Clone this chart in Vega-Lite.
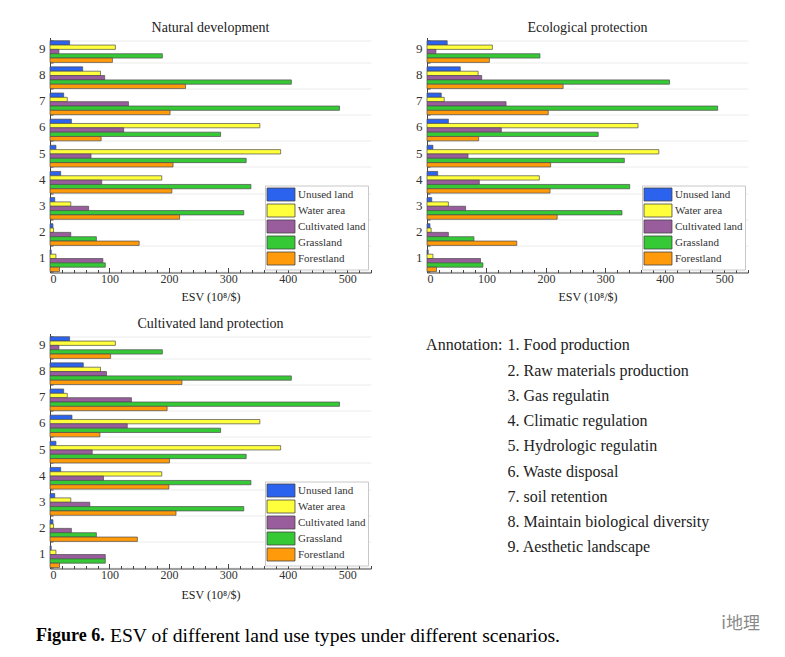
{
  "$schema": "https://vega.github.io/schema/vega-lite/v6.json",
  "padding": {"left": 36, "top": 20.5, "right": 5, "bottom": 5},
  "background": "white",
  "config": {
    "font": "Liberation Serif",
    "view": {"stroke": null},
    "title": {"fontSize": 14, "fontWeight": "normal", "color": "#222", "offset": -3, "frame": "group"},
    "axis": {"labelColor": "#333", "titleColor": "#222", "domainColor": "#444", "tickColor": "#444", "labelFont": "Liberation Serif", "titleFont": "Liberation Serif"},
    "axisY": {"title": null, "labelFontSize": 13, "labelAngle": 0, "tickBand": "extent", "tickSize": -3, "labelPadding": 8, "labelOffset": -3, "grid": true, "gridColor": "#ececec", "gridWidth": 1},
    "axisX": {"labelFontSize": 12, "titleFontSize": 12, "titleFontWeight": "normal", "grid": false, "labelPadding": 6, "titlePadding": 5, "labelOverlap": false},
    "legend": {"title": null, "orient": "bottom-right", "offset": 3, "strokeColor": "#c8c8c8", "fillColor": "white", "padding": 2, "labelFontSize": 11, "labelColor": "#333", "labelFont": "Liberation Serif", "symbolType": "M-2.15,-1H2.15V1H-2.15Z", "symbolSize": 169, "symbolStrokeColor": "#444", "symbolStrokeWidth": 0.8, "symbolOpacity": 1, "rowPadding": -2.5, "symbolOffset": 7, "labelOffset": 10}
  },
  "datasets": {
    "esv": [
      {"s":"N","k":1,"t":"Unused land","v":2},{"s":"N","k":1,"t":"Water area","v":10},{"s":"N","k":1,"t":"Cultivated land","v":89},{"s":"N","k":1,"t":"Grassland","v":93},{"s":"N","k":1,"t":"Forestland","v":16},
      {"s":"N","k":2,"t":"Unused land","v":5},{"s":"N","k":2,"t":"Water area","v":6},{"s":"N","k":2,"t":"Cultivated land","v":35},{"s":"N","k":2,"t":"Grassland","v":78},{"s":"N","k":2,"t":"Forestland","v":150},
      {"s":"N","k":3,"t":"Unused land","v":8},{"s":"N","k":3,"t":"Water area","v":35},{"s":"N","k":3,"t":"Cultivated land","v":65},{"s":"N","k":3,"t":"Grassland","v":326},{"s":"N","k":3,"t":"Forestland","v":218},
      {"s":"N","k":4,"t":"Unused land","v":18},{"s":"N","k":4,"t":"Water area","v":188},{"s":"N","k":4,"t":"Cultivated land","v":87},{"s":"N","k":4,"t":"Grassland","v":338},{"s":"N","k":4,"t":"Forestland","v":205},
      {"s":"N","k":5,"t":"Unused land","v":10},{"s":"N","k":5,"t":"Water area","v":388},{"s":"N","k":5,"t":"Cultivated land","v":69},{"s":"N","k":5,"t":"Grassland","v":330},{"s":"N","k":5,"t":"Forestland","v":207},
      {"s":"N","k":6,"t":"Unused land","v":36},{"s":"N","k":6,"t":"Water area","v":353},{"s":"N","k":6,"t":"Cultivated land","v":124},{"s":"N","k":6,"t":"Grassland","v":287},{"s":"N","k":6,"t":"Forestland","v":86},
      {"s":"N","k":7,"t":"Unused land","v":23},{"s":"N","k":7,"t":"Water area","v":29},{"s":"N","k":7,"t":"Cultivated land","v":132},{"s":"N","k":7,"t":"Grassland","v":487},{"s":"N","k":7,"t":"Forestland","v":202},
      {"s":"N","k":8,"t":"Unused land","v":55},{"s":"N","k":8,"t":"Water area","v":85},{"s":"N","k":8,"t":"Cultivated land","v":92},{"s":"N","k":8,"t":"Grassland","v":406},{"s":"N","k":8,"t":"Forestland","v":228},
      {"s":"N","k":9,"t":"Unused land","v":33},{"s":"N","k":9,"t":"Water area","v":110},{"s":"N","k":9,"t":"Cultivated land","v":15},{"s":"N","k":9,"t":"Grassland","v":189},{"s":"N","k":9,"t":"Forestland","v":105},
      {"s":"E","k":1,"t":"Unused land","v":2},{"s":"E","k":1,"t":"Water area","v":10},{"s":"E","k":1,"t":"Cultivated land","v":90},{"s":"E","k":1,"t":"Grassland","v":94},{"s":"E","k":1,"t":"Forestland","v":16},
      {"s":"E","k":2,"t":"Unused land","v":5},{"s":"E","k":2,"t":"Water area","v":7},{"s":"E","k":2,"t":"Cultivated land","v":36},{"s":"E","k":2,"t":"Grassland","v":79},{"s":"E","k":2,"t":"Forestland","v":151},
      {"s":"E","k":3,"t":"Unused land","v":8},{"s":"E","k":3,"t":"Water area","v":36},{"s":"E","k":3,"t":"Cultivated land","v":65},{"s":"E","k":3,"t":"Grassland","v":328},{"s":"E","k":3,"t":"Forestland","v":219},
      {"s":"E","k":4,"t":"Unused land","v":18},{"s":"E","k":4,"t":"Water area","v":189},{"s":"E","k":4,"t":"Cultivated land","v":88},{"s":"E","k":4,"t":"Grassland","v":341},{"s":"E","k":4,"t":"Forestland","v":207},
      {"s":"E","k":5,"t":"Unused land","v":10},{"s":"E","k":5,"t":"Water area","v":390},{"s":"E","k":5,"t":"Cultivated land","v":69},{"s":"E","k":5,"t":"Grassland","v":332},{"s":"E","k":5,"t":"Forestland","v":208},
      {"s":"E","k":6,"t":"Unused land","v":36},{"s":"E","k":6,"t":"Water area","v":355},{"s":"E","k":6,"t":"Cultivated land","v":125},{"s":"E","k":6,"t":"Grassland","v":288},{"s":"E","k":6,"t":"Forestland","v":87},
      {"s":"E","k":7,"t":"Unused land","v":24},{"s":"E","k":7,"t":"Water area","v":29},{"s":"E","k":7,"t":"Cultivated land","v":133},{"s":"E","k":7,"t":"Grassland","v":489},{"s":"E","k":7,"t":"Forestland","v":204},
      {"s":"E","k":8,"t":"Unused land","v":56},{"s":"E","k":8,"t":"Water area","v":86},{"s":"E","k":8,"t":"Cultivated land","v":92},{"s":"E","k":8,"t":"Grassland","v":408},{"s":"E","k":8,"t":"Forestland","v":229},
      {"s":"E","k":9,"t":"Unused land","v":34},{"s":"E","k":9,"t":"Water area","v":110},{"s":"E","k":9,"t":"Cultivated land","v":15},{"s":"E","k":9,"t":"Grassland","v":190},{"s":"E","k":9,"t":"Forestland","v":105},
      {"s":"C","k":1,"t":"Unused land","v":2},{"s":"C","k":1,"t":"Water area","v":10},{"s":"C","k":1,"t":"Cultivated land","v":93},{"s":"C","k":1,"t":"Grassland","v":93},{"s":"C","k":1,"t":"Forestland","v":16},
      {"s":"C","k":2,"t":"Unused land","v":5},{"s":"C","k":2,"t":"Water area","v":6},{"s":"C","k":2,"t":"Cultivated land","v":36},{"s":"C","k":2,"t":"Grassland","v":78},{"s":"C","k":2,"t":"Forestland","v":147},
      {"s":"C","k":3,"t":"Unused land","v":8},{"s":"C","k":3,"t":"Water area","v":35},{"s":"C","k":3,"t":"Cultivated land","v":67},{"s":"C","k":3,"t":"Grassland","v":326},{"s":"C","k":3,"t":"Forestland","v":212},
      {"s":"C","k":4,"t":"Unused land","v":18},{"s":"C","k":4,"t":"Water area","v":188},{"s":"C","k":4,"t":"Cultivated land","v":90},{"s":"C","k":4,"t":"Grassland","v":338},{"s":"C","k":4,"t":"Forestland","v":200},
      {"s":"C","k":5,"t":"Unused land","v":10},{"s":"C","k":5,"t":"Water area","v":388},{"s":"C","k":5,"t":"Cultivated land","v":71},{"s":"C","k":5,"t":"Grassland","v":330},{"s":"C","k":5,"t":"Forestland","v":201},
      {"s":"C","k":6,"t":"Unused land","v":37},{"s":"C","k":6,"t":"Water area","v":353},{"s":"C","k":6,"t":"Cultivated land","v":130},{"s":"C","k":6,"t":"Grassland","v":287},{"s":"C","k":6,"t":"Forestland","v":84},
      {"s":"C","k":7,"t":"Unused land","v":23},{"s":"C","k":7,"t":"Water area","v":29},{"s":"C","k":7,"t":"Cultivated land","v":137},{"s":"C","k":7,"t":"Grassland","v":487},{"s":"C","k":7,"t":"Forestland","v":197},
      {"s":"C","k":8,"t":"Unused land","v":56},{"s":"C","k":8,"t":"Water area","v":85},{"s":"C","k":8,"t":"Cultivated land","v":95},{"s":"C","k":8,"t":"Grassland","v":406},{"s":"C","k":8,"t":"Forestland","v":222},
      {"s":"C","k":9,"t":"Unused land","v":33},{"s":"C","k":9,"t":"Water area","v":110},{"s":"C","k":9,"t":"Cultivated land","v":15},{"s":"C","k":9,"t":"Grassland","v":189},{"s":"C","k":9,"t":"Forestland","v":102}
    ],
    "notes": [
      {"n":1,"label":"1. Food production"},
      {"n":2,"label":"2. Raw materials production"},
      {"n":3,"label":"3. Gas regulatin"},
      {"n":4,"label":"4. Climatic regulation"},
      {"n":5,"label":"5. Hydrologic regulatin"},
      {"n":6,"label":"6. Waste disposal"},
      {"n":7,"label":"7. soil retention"},
      {"n":8,"label":"8. Maintain biological diversity"},
      {"n":9,"label":"9. Aesthetic landscape"}
    ]
  },
  "spacing": 14,
  "resolve": {"legend": {"color": "independent"}},
  "vconcat": [
    {
      "hconcat": [
        {
          "title": "Natural development",
          "width": 321, "height": 235,
          "data": {"name": "esv"},
          "transform": [{"filter": "datum.s === 'N'"}],
          "mark": {"type": "bar", "stroke": "#4d4d4d", "strokeWidth": 0.7},
          "encoding": {
            "y": {"field": "k", "type": "ordinal", "sort": "descending", "scale": {"paddingInner": 0.17, "paddingOuter": 0.08, "align": 0.77}},
            "yOffset": {"field": "t", "sort": ["Unused land", "Water area", "Cultivated land", "Grassland", "Forestland"], "scale": {"paddingInner": 0, "paddingOuter": 0}},
            "x": {"field": "v", "type": "quantitative", "scale": {"domain": [0, 540], "nice": false},
                  "axis": {"title": "ESV (10⁸/$)", "values": [0,20,40,60,80,100,120,140,160,180,200,220,240,260,280,300,320,340,360,380,400,420,440,460,480,500,520,540],
                           "labelExpr": "datum.value % 100 === 0 ? datum.label : ''",
                           "tickSize": {"condition": {"test": "datum.value % 100 === 0", "value": -5}, "value": -3}}},
            "color": {"field": "t", "type": "nominal", "scale": {"domain": ["Unused land", "Water area", "Cultivated land", "Grassland", "Forestland"], "range": ["#2b63ee", "#ffff3c", "#995d9e", "#35c935", "#ff9a0a"]}}
          }
        },
        {
          "title": "Ecological protection",
          "width": 321, "height": 235,
          "data": {"name": "esv"},
          "transform": [{"filter": "datum.s === 'E'"}],
          "mark": {"type": "bar", "stroke": "#4d4d4d", "strokeWidth": 0.7},
          "encoding": {
            "y": {"field": "k", "type": "ordinal", "sort": "descending", "scale": {"paddingInner": 0.17, "paddingOuter": 0.08, "align": 0.77}},
            "yOffset": {"field": "t", "sort": ["Unused land", "Water area", "Cultivated land", "Grassland", "Forestland"], "scale": {"paddingInner": 0, "paddingOuter": 0}},
            "x": {"field": "v", "type": "quantitative", "scale": {"domain": [0, 540], "nice": false},
                  "axis": {"title": "ESV (10⁸/$)", "values": [0,20,40,60,80,100,120,140,160,180,200,220,240,260,280,300,320,340,360,380,400,420,440,460,480,500,520,540],
                           "labelExpr": "datum.value % 100 === 0 ? datum.label : ''",
                           "tickSize": {"condition": {"test": "datum.value % 100 === 0", "value": -5}, "value": -3}}},
            "color": {"field": "t", "type": "nominal", "scale": {"domain": ["Unused land", "Water area", "Cultivated land", "Grassland", "Forestland"], "range": ["#2b63ee", "#ffff3c", "#995d9e", "#35c935", "#ff9a0a"]}}
          }
        }
      ],
      "spacing": 43,
      "resolve": {"legend": {"color": "independent"}}
    },
    {
      "hconcat": [
        {
          "title": "Cultivated land protection",
          "width": 321, "height": 235,
          "data": {"name": "esv"},
          "transform": [{"filter": "datum.s === 'C'"}],
          "mark": {"type": "bar", "stroke": "#4d4d4d", "strokeWidth": 0.7},
          "encoding": {
            "y": {"field": "k", "type": "ordinal", "sort": "descending", "scale": {"paddingInner": 0.17, "paddingOuter": 0.08, "align": 0.77}},
            "yOffset": {"field": "t", "sort": ["Unused land", "Water area", "Cultivated land", "Grassland", "Forestland"], "scale": {"paddingInner": 0, "paddingOuter": 0}},
            "x": {"field": "v", "type": "quantitative", "scale": {"domain": [0, 540], "nice": false},
                  "axis": {"title": "ESV (10⁸/$)", "titlePadding": 7, "values": [0,20,40,60,80,100,120,140,160,180,200,220,240,260,280,300,320,340,360,380,400,420,440,460,480,500,520,540],
                           "labelExpr": "datum.value % 100 === 0 ? datum.label : ''",
                           "tickSize": {"condition": {"test": "datum.value % 100 === 0", "value": -5}, "value": -3}}},
            "color": {"field": "t", "type": "nominal", "scale": {"domain": ["Unused land", "Water area", "Cultivated land", "Grassland", "Forestland"], "range": ["#2b63ee", "#ffff3c", "#995d9e", "#35c935", "#ff9a0a"]}}
          }
        },
        {
          "width": 300, "height": 235,
          "layer": [
            {
              "data": {"name": "notes"},
              "mark": {"type": "text", "align": "left", "baseline": "middle", "fontSize": 16, "color": "#222"},
              "encoding": {
                "y": {"field": "n", "type": "quantitative", "scale": {"domain": [0.525, 9.832], "reverse": true, "nice": false, "zero": false}, "axis": null},
                "x": {"datum": 1, "type": "quantitative", "scale": {"domain": [-0.186, 3.66], "nice": false, "zero": false}, "axis": null},
                "text": {"field": "label"}
              }
            },
            {
              "data": {"values": [{"h": "Annotation:"}]},
              "mark": {"type": "text", "align": "right", "baseline": "middle", "fontSize": 16, "color": "#222", "dx": -5},
              "encoding": {
                "y": {"datum": 1, "type": "quantitative"},
                "x": {"datum": 1, "type": "quantitative"},
                "text": {"field": "h"}
              }
            }
          ]
        }
      ],
      "spacing": 43,
      "resolve": {"legend": {"color": "independent"}}
    },
    {
      "width": 724, "height": 16,
      "data": {"values": [{"a": "Figure 6.", "b": "ESV of different land use types under different scenarios.", "w": "i地理"}]},
      "layer": [
        {
          "mark": {"type": "text", "align": "left", "baseline": "middle", "fontSize": 18, "fontWeight": "bold", "color": "#000", "dx": -14},
          "encoding": {"x": {"datum": 0, "type": "quantitative", "scale": {"domain": [0, 1], "nice": false}, "axis": null}, "text": {"field": "a"}}
        },
        {
          "mark": {"type": "text", "align": "left", "baseline": "middle", "fontSize": 19.6, "color": "#000", "dx": 60},
          "encoding": {"x": {"datum": 0, "type": "quantitative"}, "text": {"field": "b"}}
        },
        {
          "mark": {"type": "text", "align": "right", "baseline": "middle", "fontSize": 17, "color": "#8a8a8a", "dy": -12, "dx": -14, "font": "Noto Sans CJK SC"},
          "encoding": {"x": {"datum": 1, "type": "quantitative"}, "text": {"field": "w"}}
        }
      ]
    }
  ]
}
